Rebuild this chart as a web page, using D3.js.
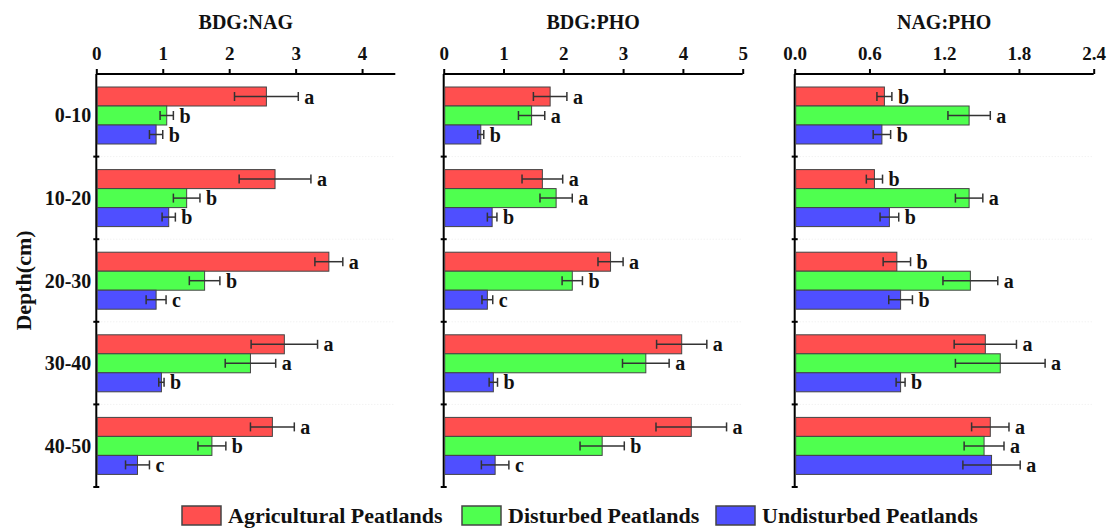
<!DOCTYPE html>
<html>
<head>
<meta charset="utf-8">
<script src="https://cdn.jsdelivr.net/npm/d3@7"></script>
<style>
  body { margin: 0; background: #fff; }
  text { font-family: "Liberation Serif", "Times New Roman", serif; font-weight: bold; fill: #111; }
</style>
</head>
<body>
<div id="chart"></div>
<script>
var width = 1113;
var height = 532;

var depths = ['0-10', '10-20', '20-30', '30-40', '40-50'];
var series = ['Agricultural Peatlands', 'Disturbed Peatlands', 'Undisturbed Peatlands'];
var colors = ['#ff4f4f', '#4fff4f', '#4f4fff'];

// rows = depth, columns = series (agricultural, disturbed, undisturbed)
var bdgNagMeans = [[2.56, 1.06, 0.90], [2.69, 1.36, 1.09], [3.50, 1.63, 0.90], [2.83, 2.32, 0.98], [2.65, 1.74, 0.62]];
var bdgNagErrors = [[0.48, 0.10, 0.10], [0.54, 0.20, 0.10], [0.21, 0.23, 0.15], [0.50, 0.38, 0.04], [0.33, 0.21, 0.18]];
var bdgNagLetters = [['a', 'b', 'b'], ['a', 'b', 'b'], ['a', 'b', 'c'], ['a', 'a', 'b'], ['a', 'b', 'c']];

var bdgPhoMeans = [[1.78, 1.47, 0.62], [1.65, 1.88, 0.81], [2.79, 2.15, 0.73], [3.98, 3.38, 0.83], [4.14, 2.65, 0.86]];
var bdgPhoErrors = [[0.28, 0.22, 0.05], [0.34, 0.27, 0.08], [0.21, 0.17, 0.09], [0.42, 0.39, 0.07], [0.59, 0.37, 0.23]];
var bdgPhoLetters = [['a', 'a', 'b'], ['a', 'a', 'b'], ['a', 'b', 'c'], ['a', 'a', 'b'], ['a', 'b', 'c']];

var nagPhoMeans = [[0.72, 1.40, 0.70], [0.64, 1.40, 0.76], [0.82, 1.41, 0.85], [1.53, 1.65, 0.85], [1.57, 1.52, 1.58]];
var nagPhoErrors = [[0.06, 0.17, 0.07], [0.065, 0.11, 0.075], [0.11, 0.22, 0.095], [0.25, 0.36, 0.036], [0.15, 0.16, 0.23]];
var nagPhoLetters = [['b', 'a', 'b'], ['b', 'a', 'b'], ['b', 'a', 'b'], ['a', 'a', 'b'], ['a', 'a', 'a']];

var panels = [
  { title: 'BDG:NAG', left: 96.3, max: 4.5, ticks: [0, 1, 2, 3, 4], fmt: d3.format('d'),
    means: bdgNagMeans, errors: bdgNagErrors, letters: bdgNagLetters },
  { title: 'BDG:PHO', left: 443.7, max: 5, ticks: [0, 1, 2, 3, 4, 5], fmt: d3.format('d'),
    means: bdgPhoMeans, errors: bdgPhoErrors, letters: bdgPhoLetters },
  { title: 'NAG:PHO', left: 794.7, max: 2.4, ticks: [0, 0.6, 1.2, 1.8, 2.4], fmt: d3.format('.1f'),
    means: nagPhoMeans, errors: nagPhoErrors, letters: nagPhoLetters }
];

var plotTop = 74;
var plotBottom = 487;
var panelWidth = 299;

var svg = d3.select('#chart')
  .append('svg')
  .attr('width', width)
  .attr('height', height);

var y = d3.scaleBand()
  .domain(depths)
  .range([plotTop, plotBottom]);

var ySub = d3.scaleBand()
  .domain(series)
  .range([13, 70]);

panels.forEach(function(p, pi) {
  var x = d3.scaleLinear()
    .domain([0, p.max])
    .range([p.left, p.left + panelWidth]);

  var g = svg.append('g');

  // faint dotted separators between depth groups
  g.selectAll('.grid')
    .data(depths.slice(1))
    .enter()
    .append('line')
    .attr('x1', p.left + 2)
    .attr('x2', p.left + panelWidth)
    .attr('y1', function(d) { return y(d); })
    .attr('y2', function(d) { return y(d); })
    .style('stroke', '#ececec')
    .style('stroke-width', 1)
    .style('stroke-dasharray', '1,2');

  g.append('text')
    .attr('x', p.left + panelWidth / 2)
    .attr('y', 29)
    .attr('text-anchor', 'middle')
    .style('font-size', '20px')
    .text(p.title);

  var xAxis = g.append('g')
    .attr('transform', 'translate(0,' + plotTop + ')')
    .call(d3.axisTop(x).tickValues(p.ticks).tickFormat(p.fmt).tickSize(5).tickPadding(9));
  xAxis.select('.domain')
    .attr('d', 'M' + p.left + ',0H' + (p.left + panelWidth))
    .style('stroke', '#000')
    .style('stroke-width', 2);
  xAxis.selectAll('.tick line').style('stroke', '#000').style('stroke-width', 2);
  xAxis.selectAll('.tick text')
    .style('font-size', '19px')
    .style('font-family', '"Liberation Serif", serif')
    .style('font-weight', 'bold')
    .style('fill', '#111');

  // y axis with ticks between the groups
  g.append('line')
    .attr('x1', p.left)
    .attr('x2', p.left)
    .attr('y1', plotTop)
    .attr('y2', plotBottom)
    .style('stroke', '#000')
    .style('stroke-width', 2);
  g.selectAll('.ytick')
    .data(depths.slice(1).map(function(d) { return y(d); }).concat([plotBottom]))
    .enter()
    .append('line')
    .attr('x1', p.left - 3)
    .attr('x2', p.left + 3)
    .attr('y1', function(d) { return d; })
    .attr('y2', function(d) { return d; })
    .style('stroke', '#000')
    .style('stroke-width', 2);

  if (pi === 0) {
    g.selectAll('.cat')
      .data(depths)
      .enter()
      .append('text')
      .attr('x', p.left - 5)
      .attr('y', function(d) { return y(d) + y.bandwidth() / 2 + 7; })
      .attr('text-anchor', 'end')
      .style('font-size', '20px')
      .text(function(d) { return d; });
  }

  var rows = [];
  depths.forEach(function(dep, i) {
    series.forEach(function(s, j) {
      rows.push({ depth: dep, s: s, j: j, v: p.means[i][j], e: p.errors[i][j], l: p.letters[i][j] });
    });
  });

  g.selectAll('.bar')
    .data(rows)
    .enter()
    .append('rect')
    .attr('x', p.left + 1)
    .attr('y', function(d) { return y(d.depth) + ySub(d.s); })
    .attr('width', function(d) { return x(d.v) - p.left - 1; })
    .attr('height', ySub.bandwidth())
    .style('fill', function(d) { return colors[d.j]; })
    .style('stroke', '#444')
    .style('stroke-width', 1);

  var err = g.selectAll('.err')
    .data(rows)
    .enter()
    .append('g')
    .attr('transform', function(d) {
      return 'translate(0,' + (y(d.depth) + ySub(d.s) + ySub.bandwidth() / 2) + ')';
    });
  err.append('line')
    .attr('x1', function(d) { return x(d.v - d.e); })
    .attr('x2', function(d) { return x(d.v + d.e); })
    .style('stroke', '#333')
    .style('stroke-width', 1.5);
  err.append('line')
    .attr('x1', function(d) { return x(d.v - d.e); })
    .attr('x2', function(d) { return x(d.v - d.e); })
    .attr('y1', -4.5)
    .attr('y2', 4.5)
    .style('stroke', '#333')
    .style('stroke-width', 1.5);
  err.append('line')
    .attr('x1', function(d) { return x(d.v + d.e); })
    .attr('x2', function(d) { return x(d.v + d.e); })
    .attr('y1', -4.5)
    .attr('y2', 4.5)
    .style('stroke', '#333')
    .style('stroke-width', 1.5);
  err.append('text')
    .attr('x', function(d) { return x(d.v + d.e) + 6; })
    .attr('y', 7)
    .style('font-size', '20px')
    .text(function(d) { return d.l; });
});

svg.append('text')
  .attr('transform', 'translate(31,' + ((plotTop + plotBottom) / 2) + ') rotate(-90)')
  .attr('text-anchor', 'middle')
  .style('font-size', '22px')
  .text('Depth(cm)');

var legendX = [182, 462, 716];
var legend = svg.selectAll('.legend')
  .data(series)
  .enter()
  .append('g')
  .attr('transform', function(d, i) { return 'translate(' + legendX[i] + ',506)'; });
legend.append('rect')
  .attr('width', 39)
  .attr('height', 19)
  .style('fill', function(d, i) { return colors[i]; })
  .style('stroke', '#444')
  .style('stroke-width', 1.5);
legend.append('text')
  .attr('x', 46)
  .attr('y', 17)
  .style('font-size', '22px')
  .text(function(d) { return d; });
</script>
</body>
</html>
